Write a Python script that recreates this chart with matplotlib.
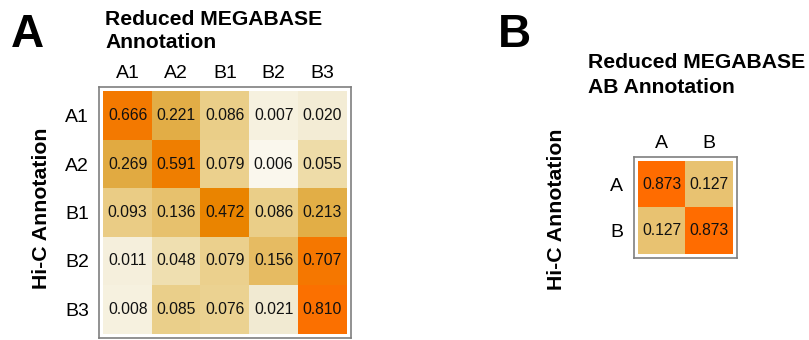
import matplotlib.pyplot as plt
import numpy as np
from matplotlib.colors import LinearSegmentedColormap

plt.rcParams["font.family"] = ["Liberation Sans", "DejaVu Sans"]

# Panel A: five-state confusion table (rows: Hi-C, columns: reduced MEGABASE)
states_5 = ["A1", "A2", "B1", "B2", "B3"]
overlap_5 = np.array([
    [0.666, 0.221, 0.086, 0.007, 0.020],
    [0.269, 0.591, 0.079, 0.006, 0.055],
    [0.093, 0.136, 0.472, 0.086, 0.213],
    [0.011, 0.048, 0.079, 0.156, 0.707],
    [0.008, 0.085, 0.076, 0.021, 0.810],
])

# Panel B: two-compartment table
states_2 = ["A", "B"]
overlap_2 = np.array([
    [0.873, 0.127],
    [0.127, 0.873],
])

VMAX = 0.873
stops = [
    (0.000, "#FFFFFF"),
    (0.006, "#F7F2E0"),
    (0.020, "#F2EBD3"),
    (0.050, "#EFDFAE"),
    (0.080, "#EBD08C"),
    (0.130, "#E8C270"),
    (0.200, "#E3AF48"),
    (0.300, "#E1A93E"),
    (0.450, "#E98600"),
    (0.650, "#F27B00"),
    (0.873, "#FF6C00"),
]
cmap = LinearSegmentedColormap.from_list(
    "megabase", [(v / VMAX, c) for v, c in stops])


def heatmap(ax, data, labels, row_pad, col_pad):
    n = len(labels)
    ax.imshow(data, cmap=cmap, vmin=0, vmax=VMAX, aspect="auto",
              interpolation="nearest")
    for i in range(n):
        for j in range(n):
            ax.text(j, i, f"{data[i, j]:.3f}", ha="center", va="center",
                    fontsize=11.3, color="#111111")
    pad = 0.09
    ax.set_xlim(-0.5 - pad, n - 0.5 + pad)
    ax.set_ylim(n - 0.5 + pad, -0.5 - pad)
    ax.set_xticks(range(n))
    ax.set_xticklabels(labels, fontsize=14)
    ax.set_yticks(range(n))
    ax.set_yticklabels(labels, fontsize=14)
    ax.xaxis.tick_top()
    ax.tick_params(axis="x", length=0, pad=col_pad)
    ax.tick_params(axis="y", length=0, pad=row_pad)
    for s in ax.spines.values():
        s.set_color("#7f7f7f")
        s.set_linewidth(1.2)


W, H = 809, 340
fig = plt.figure(figsize=(W / 100, H / 100), dpi=100)


def px_axes(x0, y0, x1, y1):
    return fig.add_axes([x0 / W, 1 - y1 / H, (x1 - x0) / W, (y1 - y0) / H])


ax_a = px_axes(99, 87, 351, 338)
heatmap(ax_a, overlap_5, states_5, row_pad=7, col_pad=3.5)

ax_b = px_axes(634, 157, 737, 258)
heatmap(ax_b, overlap_2, states_2, row_pad=8, col_pad=3.5)

# panel letters and titles
fig.text(11 / W, 1 - 47 / H, "A", fontsize=33, fontweight="bold",
         ha="left", va="baseline")
fig.text(498 / W, 1 - 47 / H, "B", fontsize=33, fontweight="bold",
         ha="left", va="baseline")

title_kw = dict(fontsize=15.2, fontweight="bold", ha="left", va="baseline")
fig.text(105 / W, 1 - 25 / H, "Reduced MEGABASE", **title_kw)
fig.text(105 / W, 1 - 48 / H, "Annotation", **title_kw)
fig.text(588 / W, 1 - 68 / H, "Reduced MEGABASE", **title_kw)
fig.text(588 / W, 1 - 93 / H, "AB Annotation", **title_kw)

ylab_kw = dict(fontsize=15.3, fontweight="bold", rotation=90,
               ha="center", va="center")
fig.text(42 / W, 1 - 208 / H, "Hi-C Annotation", **ylab_kw)
fig.text(557 / W, 1 - 209 / H, "Hi-C Annotation", **ylab_kw)

fig.savefig("out.png", dpi=100)
